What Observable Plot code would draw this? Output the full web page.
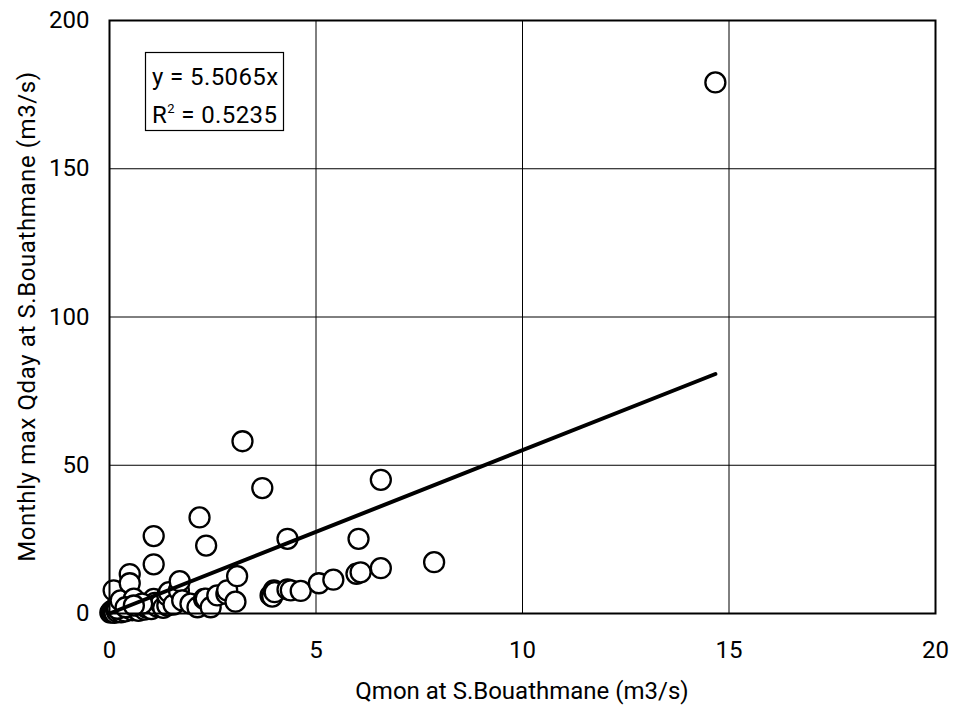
<!DOCTYPE html>
<html>
<head>
<meta charset="utf-8">
<script src="https://cdn.jsdelivr.net/npm/d3@7"></script>
<script src="https://cdn.jsdelivr.net/npm/@observablehq/plot@0.6"></script>
<style>
  html, body { margin: 0; padding: 0; background: #fff; }
</style>
</head>
<body>
<div id="chart"></div>
<script>
// Monthly mean discharge (Qmon, m3/s) vs monthly max daily discharge (Qday, m3/s)
const qmon = [
  0.02, 0.05, 0.08, 0.10, 0.12, 0.15, 0.18, 0.20, 0.22, 0.25, 0.28, 0.30, 0.35, 0.38, 0.40,
  0.45, 0.50, 0.55, 0.60, 0.65, 0.70, 0.75, 0.80, 0.85, 0.90, 0.95, 0.99, 1.01, 1.07, 1.10,
  1.15, 1.24, 1.30, 1.40, 1.40, 1.44, 1.55, 1.68, 1.70, 1.76, 1.96, 2.13, 2.29, 2.33, 2.45,
  2.61, 2.83, 2.85, 3.05, 3.09, 0.10, 0.19, 0.27, 0.49, 0.49, 1.07, 1.07, 2.18, 2.34, 3.22,
  3.70, 3.90, 3.94, 3.98, 4.00, 4.31, 4.31, 4.39, 4.63, 5.07, 5.42, 5.98, 6.08, 6.03, 6.57,
  6.57, 7.86, 14.67, 0.59, 0.79, 0.39, 0.59
];
const qdayMax = [
  0.3, 0.8, 0.5, 1.2, 0.2, 1.8, 0.6, 1.6, 2.4, 1.0, 0.4, 2.8, 1.4, 0.7, 3.2,
  1.9, 2.2, 1.1, 2.7, 1.6, 0.9, 2.3, 3.3, 1.3, 2.0, 2.9, 2.1, 1.5, 4.9, 3.6,
  2.4, 3.3, 1.9, 2.7, 6.1, 7.2, 3.0, 7.8, 10.9, 4.4, 3.3, 2.1, 4.9, 5.0, 2.1,
  6.1, 6.6, 7.8, 4.0, 12.6, 7.8, 1.6, 4.4, 13.3, 10.2, 16.6, 26.1, 32.4, 22.9, 58.1,
  42.3, 6.1, 5.7, 7.8, 7.2, 8.1, 25.2, 7.8, 7.6, 10.2, 11.4, 13.4, 13.9, 25.2, 45.1,
  15.3, 17.3, 179.1, 5.0, 3.3, 2.1, 2.7
];
const slope = 5.5065;
const r2 = 0.5235;
const xTicks = [0, 5, 10, 15, 20];
const yTicks = [0, 50, 100, 150, 200];
const xLabel = "Qmon at S.Bouathmane (m3/s)";
const yLabel = "Monthly max Qday at S.Bouathmane (m3/s)";

const points = qmon.map((x, i) => ({x, y: qdayMax[i]}));
const xMax = d3.max(qmon);
const trend = [{x: 0, y: 0}, {x: xMax, y: slope * xMax}];

const W = 955, H = 709;
const mL = 109, mT = 20, mR = 20, mB = 96;
const FONT = "Roboto, 'Liberation Sans', sans-serif";

const chart = Plot.plot({
  width: W,
  height: H,
  marginLeft: mL,
  marginTop: mT,
  marginRight: mR,
  marginBottom: mB,
  style: {fontFamily: FONT, fontSize: "23px", color: "#000", background: "#fff", overflow: "visible"},
  x: {domain: [0, 20], ticks: xTicks},
  y: {domain: [0, 200], ticks: yTicks},
  marks: [
    Plot.gridX(xTicks, {stroke: "#000", strokeOpacity: 1, strokeWidth: 1}),
    Plot.gridY(yTicks, {stroke: "#000", strokeOpacity: 1, strokeWidth: 1}),
    Plot.axisX(xTicks, {tickSize: 0, tickPadding: 27, fontSize: 24, label: null}),
    Plot.axisY(yTicks, {tickSize: 0, tickPadding: 20, fontSize: 24, label: null}),
    Plot.dot(points, {x: "x", y: "y", r: 10, fill: "#fff", stroke: "#000", strokeWidth: 2.3}),
    Plot.line(trend, {x: "x", y: "y", stroke: "#000", strokeWidth: 4}),
    Plot.frame({stroke: "#000", strokeWidth: 2})
  ]
});

document.getElementById("chart").appendChild(chart);

const svg = d3.select(chart);

// Axis titles
const plotCx = mL + (W - mL - mR) / 2;
const plotCy = mT + (H - mT - mB) / 2;
svg.append("text")
  .attr("x", plotCx).attr("y", 699)
  .attr("text-anchor", "middle")
  .style("font-family", FONT).style("font-size", "24px")
  .text(xLabel);
svg.append("text")
  .attr("transform", `translate(35,${plotCy}) rotate(-90)`)
  .attr("text-anchor", "middle")
  .style("font-family", FONT).style("font-size", "24px").style("letter-spacing", "0.6px")
  .text(yLabel);

// Regression annotation box (top-left of the plot area)
const g = svg.append("g").style("font-family", FONT).style("font-size", "24px").style("letter-spacing", "0.4px").attr("text-anchor", "start");
g.append("rect")
  .attr("x", 145.5).attr("y", 52.5).attr("width", 138).attr("height", 78)
  .attr("fill", "#fff").attr("stroke", "#000").attr("stroke-width", 1.2);
g.append("text").attr("x", 152).attr("y", 85).attr("text-anchor", "start").text(`y = ${slope}x`);
const t2 = g.append("text").attr("x", 152).attr("y", 123).attr("text-anchor", "start");
t2.append("tspan").text("R");
t2.append("tspan").style("font-size", "13px").attr("dy", -10).text("2");
t2.append("tspan").attr("dy", 10).text(` = ${r2}`);
</script>
</body>
</html>
